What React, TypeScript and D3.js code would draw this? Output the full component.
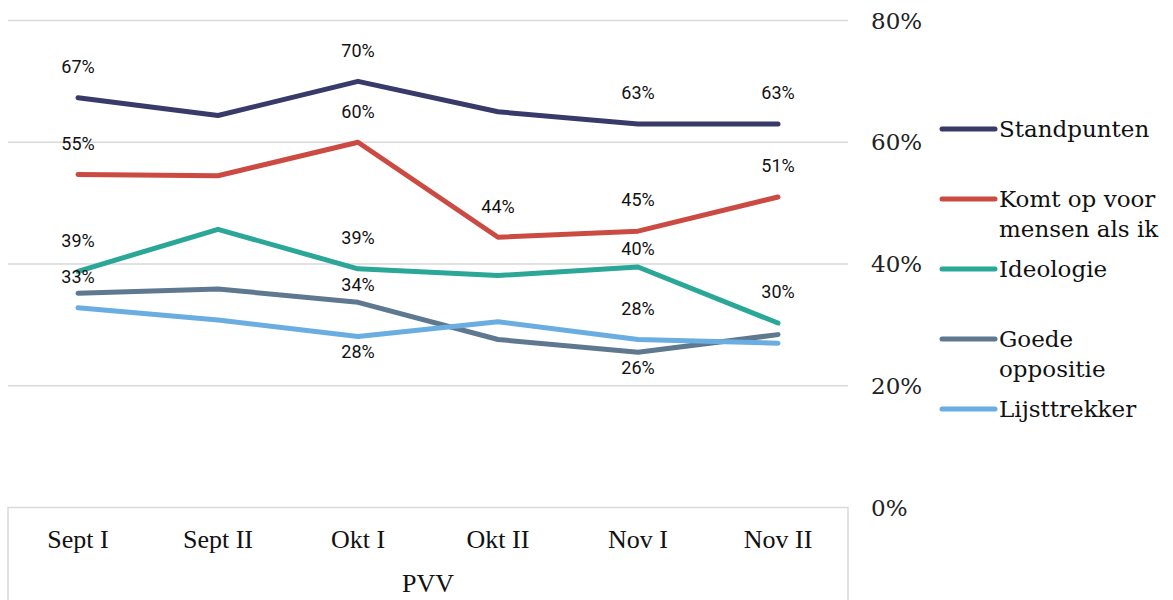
import React, { useEffect, useRef } from 'react';
import * as d3 from 'd3';

// --- data ---
const periods = ['Sept I', 'Sept II', 'Okt I', 'Okt II', 'Nov I', 'Nov II'];
const groupLabel = 'PVV';

const standpunten = [67.3, 64.4, 70, 65, 63, 63];
const komtOpVoor = [54.7, 54.5, 60, 44.4, 45.4, 51];
const ideologie = [38.8, 45.7, 39.2, 38.1, 39.5, 30.3];
const goedeOppositie = [35.2, 35.9, 33.7, 27.6, 25.5, 28.4];
const lijsttrekker = [32.8, 30.8, 28.1, 30.5, 27.6, 27];

const seriesNames = [['Standpunten'], ['Komt op voor', 'mensen als ik'], ['Ideologie'], ['Goede', 'oppositie'], ['Lijsttrekker']];
const seriesColors = ['#383b69', '#cb4b42', '#2aa797', '#5d788f', '#69ade1'];
const yTicks = [0, 20, 40, 60, 80];

// which points carry a value label: [series, period index, shown value, placement]
const valueLabels: [number, number, number, string][] = [
  [0, 0, 67, 'above'], [0, 2, 70, 'above'], [0, 4, 63, 'above'], [0, 5, 63, 'above'],
  [1, 0, 55, 'above'], [1, 2, 60, 'above'], [1, 3, 44, 'above'], [1, 4, 45, 'above'], [1, 5, 51, 'above'],
  [2, 0, 39, 'above'], [2, 2, 39, 'above'], [2, 4, 40, 'near'], [2, 5, 30, 'above'],
  [3, 2, 34, 'near'], [3, 4, 26, 'below'],
  [4, 0, 33, 'above'], [4, 2, 28, 'below'], [4, 4, 28, 'above'],
];

const App = () => {
  const ref = useRef<SVGSVGElement>(null);

  useEffect(() => {
    if (!ref.current) return;
    const width = 1173, height = 600;
    const svg = d3.select(ref.current);
    svg.selectAll('*').remove();

    const allSeries = [standpunten, komtOpVoor, ideologie, goedeOppositie, lijsttrekker];
    const plotLeft = 8, plotRight = 848;

    const x = d3.scaleBand().domain(periods).range([plotLeft, plotRight]);
    const y = d3.scaleLinear().domain([0, 80]).range([507.5, 20.5]);
    const cx = (i: number) => (x(periods[i]) as number) + x.bandwidth() / 2;

    // gridlines
    svg.append('g').selectAll('line').data(yTicks.filter(t => t > 0)).enter().append('line')
      .attr('x1', plotLeft).attr('x2', plotRight)
      .attr('y1', d => y(d)).attr('y2', d => y(d))
      .attr('stroke', '#d9d9d9').attr('stroke-width', 1.5);

    // right y-axis labels
    svg.append('g').selectAll('text').data(yTicks).enter().append('text')
      .attr('x', 871).attr('y', d => y(d)).attr('dy', '0.35em')
      .attr('font-family', '"DejaVu Serif", serif').attr('font-size', 23).attr('fill', '#222')
      .text(d => `${d}%`);

    // category box
    svg.append('rect').attr('x', plotLeft).attr('y', y(0)).attr('width', plotRight - plotLeft).attr('height', 120)
      .attr('fill', 'none').attr('stroke', '#d9d9d9').attr('stroke-width', 1.5);
    svg.append('g').selectAll('text').data(periods).enter().append('text')
      .attr('x', (d, i) => cx(i)).attr('y', 548).attr('text-anchor', 'middle')
      .attr('font-family', '"Liberation Serif", serif').attr('font-size', 26).attr('fill', '#111')
      .text(d => d);
    svg.append('text').attr('x', (plotLeft + plotRight) / 2).attr('y', 592).attr('text-anchor', 'middle')
      .attr('font-family', '"Liberation Serif", serif').attr('font-size', 26).attr('fill', '#111')
      .text(groupLabel);

    // lines
    const line = d3.line<number>().x((d, i) => cx(i)).y(d => y(d));
    svg.append('g').selectAll('path').data(allSeries).enter().append('path')
      .attr('d', d => line(d))
      .attr('fill', 'none').attr('stroke', (d, i) => seriesColors[i])
      .attr('stroke-width', 5).attr('stroke-linecap', 'round').attr('stroke-linejoin', 'round');

    // value labels
    const offset: Record<string, number> = { above: -31, near: -18, below: 15 };
    svg.append('g').selectAll('text').data(valueLabels).enter().append('text')
      .attr('x', d => cx(d[1])).attr('y', d => y(allSeries[d[0]][d[1]]) + offset[d[3]])
      .attr('dy', '0.35em').attr('text-anchor', 'middle')
      .attr('font-family', 'Roboto, sans-serif').attr('font-size', 18).attr('fill', '#111')
      .text(d => `${d[2]}%`);

    // legend
    const legend = svg.append('g').selectAll('g').data(seriesNames).enter().append('g')
      .attr('transform', (d, i) => `translate(942, ${129 + i * 70})`);
    legend.append('line').attr('x1', 0).attr('x2', 53)
      .attr('stroke', (d, i) => seriesColors[i]).attr('stroke-width', 5).attr('stroke-linecap', 'round');
    legend.append('text').attr('x', 57)
      .attr('font-family', '"DejaVu Serif", serif').attr('font-size', 23).attr('fill', '#111')
      .selectAll('tspan').data(d => d).enter().append('tspan')
      .attr('x', 57).attr('y', (d, i) => i * 30).attr('dy', '0.35em')
      .text(d => d);

    svg.attr('width', width).attr('height', height);
  }, []);

  return (
    <svg ref={ref} width={1173} height={600}
      style={{ position: 'absolute', left: 0, top: 0, background: '#fff' }} />
  );
};

export default App;
